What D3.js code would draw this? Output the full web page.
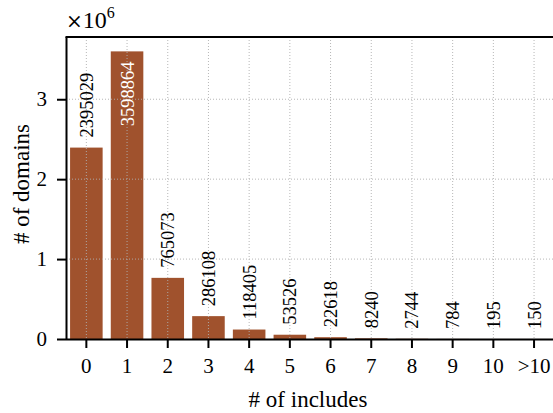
<!DOCTYPE html>
<html>
<head>
<meta charset="utf-8">
<script src="https://cdn.jsdelivr.net/npm/d3@7/dist/d3.min.js"></script>
<style>
  body { margin: 0; background: #fff; }
  text { font-family: "Liberation Serif", "DejaVu Serif", serif; }
</style>
</head>
<body>
<svg id="chart" width="553" height="413"></svg>
<script>
const categories = ["0","1","2","3","4","5","6","7","8","9","10",">10"];
const domains = [2395029, 3598864, 765073, 286108, 118405, 53526, 22618, 8240, 2744, 784, 195, 150];
const yTicks = [0, 1e6, 2e6, 3e6];
const yTickLabels = ["0","1","2","3"];

const W = 553, H = 413;
const m = {left: 66, top: 37, right: 554.4, bottom: 339};
const svg = d3.select("#chart");

const x = d3.scaleBand().domain(categories).range([m.left, m.right]).paddingInner(0.2).paddingOuter(0.1);
const y = d3.scaleLinear().domain([0, 3778807]).range([m.bottom, m.top]);

const data = categories.map((c, i) => ({c, v: domains[i]}));

// bars
svg.append("g").selectAll("rect").data(data).join("rect")
  .attr("x", d => x(d.c)).attr("width", x.bandwidth())
  .attr("y", d => y(d.v)).attr("height", d => y(0) - y(d.v))
  .attr("fill", "#a0522d");

// grid
const grid = svg.append("g").attr("stroke", "#b0b0b0").attr("stroke-width", 1).attr("stroke-dasharray", "1,2").attr("opacity", 0.9);
grid.selectAll("line.v").data(categories).join("line")
  .attr("x1", d => x(d) + x.bandwidth()/2).attr("x2", d => x(d) + x.bandwidth()/2)
  .attr("y1", m.top).attr("y2", m.bottom);
grid.selectAll("line.h").data(yTicks.slice(1)).join("line")
  .attr("x1", m.left).attr("x2", W).attr("y1", d => y(d)).attr("y2", d => y(d));

// value labels
const fsVal = 18.5;
svg.append("g").selectAll("text").data(data).join("text")
  .each(function(d) {
    const cx = x(d.c) + x.bandwidth()/2;
    const yt = y(d.v);
    const t = d3.select(this).text(d.v).attr("font-size", fsVal);
    const len = this.getComputedTextLength();
    const inside = yt - 10 - len < m.top;
    t.attr("transform", `translate(${cx},${inside ? yt + 10 : yt - 10}) rotate(-90)`)
     .attr("text-anchor", inside ? "end" : "start")
     .attr("dy", "0.35em")
     .attr("fill", inside ? "#fff" : "#000");
  });

// axes
const xAxis = svg.append("g").attr("transform", `translate(0,${m.bottom})`)
  .call(d3.axisBottom(x).tickSize(9).tickPadding(12).tickSizeOuter(0));
xAxis.select(".domain").attr("d", `M${m.left},0.5H${W}`).attr("stroke-width", 2);
xAxis.selectAll(".tick line").attr("stroke-width", 2);
xAxis.selectAll(".tick text").attr("font-size", 21).attr("font-family", "Liberation Serif").attr("dy", "0.6em");

const yAxis = svg.append("g").attr("transform", `translate(${m.left},0)`)
  .call(d3.axisLeft(y).tickValues(yTicks).tickFormat((d, i) => yTickLabels[i]).tickSize(9).tickPadding(10).tickSizeOuter(0));
yAxis.select(".domain").attr("d", `M0.5,${m.bottom}V${m.top}`).attr("stroke-width", 2);
yAxis.selectAll(".tick line").attr("stroke-width", 2);
yAxis.selectAll(".tick text").attr("font-size", 21).attr("font-family", "Liberation Serif");

// top border
svg.append("line").attr("x1", m.left - 0.5).attr("x2", W).attr("y1", m.top).attr("y2", m.top)
  .attr("stroke", "#000").attr("stroke-width", 2);

// titles
svg.append("text").attr("x", 308).attr("y", 407).attr("text-anchor", "middle")
  .attr("font-size", 23).text("# of includes");
svg.append("text").attr("transform", `translate(29,${(m.top + m.bottom) / 2 - 4}) rotate(-90)`)
  .attr("text-anchor", "middle").attr("font-size", 23).text("# of domains");

const mult = svg.append("text").attr("x", 66).attr("y", 28).attr("font-size", 24);
mult.append("tspan").attr("font-family", "DejaVu Serif").attr("font-size", 20).text("×");
mult.append("tspan").text("10");
mult.append("tspan").attr("font-size", 16).attr("dy", -10).text("6");
</script>
</body>
</html>
